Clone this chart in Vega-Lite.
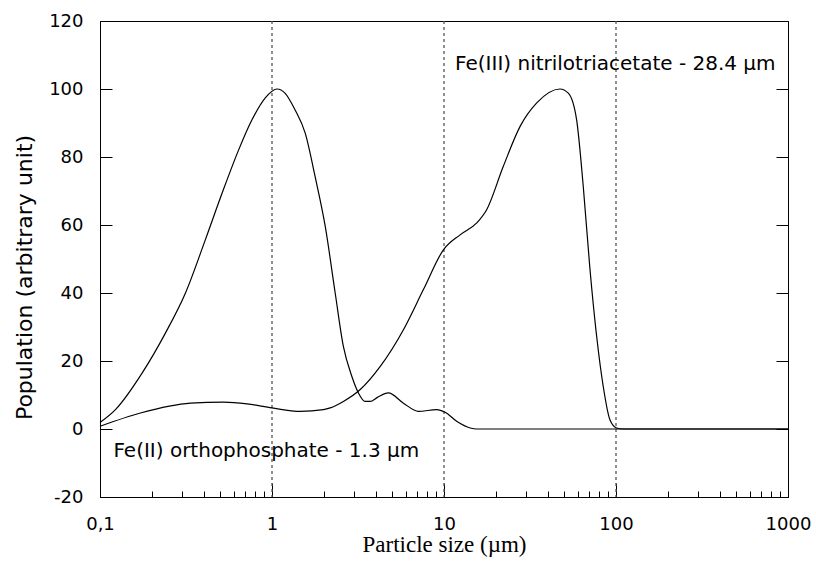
{
  "$schema": "https://vega.github.io/schema/vega-lite/v6.json",
  "width": 688,
  "height": 476,
  "autosize": "none",
  "padding": {"left": 100, "top": 21, "right": 28, "bottom": 70},
  "background": "white",
  "config": {
    "view": {"stroke": "black", "strokeWidth": 1},
    "axis": {
      "domainColor": "black",
      "tickColor": "black",
      "labelColor": "black",
      "titleColor": "black",
      "labelFont": "DejaVu Sans",
      "labelFontSize": 18,
      "grid": false
    }
  },
  "datasets": {
    "curves": [
      {"size": 0.1, "pop": 1.9, "sample": "Fe(II) orthophosphate"},
      {"size": 0.123, "pop": 5.7, "sample": "Fe(II) orthophosphate"},
      {"size": 0.176, "pop": 16.5, "sample": "Fe(II) orthophosphate"},
      {"size": 0.24, "pop": 28.2, "sample": "Fe(II) orthophosphate"},
      {"size": 0.314, "pop": 40, "sample": "Fe(II) orthophosphate"},
      {"size": 0.41, "pop": 55.7, "sample": "Fe(II) orthophosphate"},
      {"size": 0.513, "pop": 69.4, "sample": "Fe(II) orthophosphate"},
      {"size": 0.64, "pop": 82.1, "sample": "Fe(II) orthophosphate"},
      {"size": 0.766, "pop": 91, "sample": "Fe(II) orthophosphate"},
      {"size": 0.914, "pop": 97.4, "sample": "Fe(II) orthophosphate"},
      {"size": 1.07, "pop": 100, "sample": "Fe(II) orthophosphate"},
      {"size": 1.19, "pop": 98.8, "sample": "Fe(II) orthophosphate"},
      {"size": 1.36, "pop": 93.9, "sample": "Fe(II) orthophosphate"},
      {"size": 1.56, "pop": 87, "sample": "Fe(II) orthophosphate"},
      {"size": 1.78, "pop": 74.3, "sample": "Fe(II) orthophosphate"},
      {"size": 2.04, "pop": 59.6, "sample": "Fe(II) orthophosphate"},
      {"size": 2.33, "pop": 40, "sample": "Fe(II) orthophosphate"},
      {"size": 2.6, "pop": 24.3, "sample": "Fe(II) orthophosphate"},
      {"size": 2.91, "pop": 15.5, "sample": "Fe(II) orthophosphate"},
      {"size": 3.18, "pop": 10.6, "sample": "Fe(II) orthophosphate"},
      {"size": 3.48, "pop": 8.1, "sample": "Fe(II) orthophosphate"},
      {"size": 3.72, "pop": 8.1, "sample": "Fe(II) orthophosphate"},
      {"size": 4.1, "pop": 9.3, "sample": "Fe(II) orthophosphate"},
      {"size": 4.75, "pop": 10.6, "sample": "Fe(II) orthophosphate"},
      {"size": 5.81, "pop": 7.6, "sample": "Fe(II) orthophosphate"},
      {"size": 7.1, "pop": 5.2, "sample": "Fe(II) orthophosphate"},
      {"size": 9.08, "pop": 5.7, "sample": "Fe(II) orthophosphate"},
      {"size": 10.15, "pop": 4.9, "sample": "Fe(II) orthophosphate"},
      {"size": 11.9, "pop": 2.2, "sample": "Fe(II) orthophosphate"},
      {"size": 14.2, "pop": 0.3, "sample": "Fe(II) orthophosphate"},
      {"size": 15.5, "pop": 0, "sample": "Fe(II) orthophosphate"},
      {"size": 1000, "pop": 0, "sample": "Fe(II) orthophosphate"},
      {"size": 0.1, "pop": 0.8, "sample": "Fe(III) nitrilotriacetate"},
      {"size": 0.172, "pop": 4.7, "sample": "Fe(III) nitrilotriacetate"},
      {"size": 0.336, "pop": 7.6, "sample": "Fe(III) nitrilotriacetate"},
      {"size": 0.524, "pop": 7.9, "sample": "Fe(III) nitrilotriacetate"},
      {"size": 0.716, "pop": 7.4, "sample": "Fe(III) nitrilotriacetate"},
      {"size": 1.0, "pop": 6.2, "sample": "Fe(III) nitrilotriacetate"},
      {"size": 1.46, "pop": 5.2, "sample": "Fe(III) nitrilotriacetate"},
      {"size": 1.99, "pop": 5.7, "sample": "Fe(III) nitrilotriacetate"},
      {"size": 2.18, "pop": 6.2, "sample": "Fe(III) nitrilotriacetate"},
      {"size": 2.6, "pop": 8.1, "sample": "Fe(III) nitrilotriacetate"},
      {"size": 3.26, "pop": 11.6, "sample": "Fe(III) nitrilotriacetate"},
      {"size": 4.26, "pop": 18.4, "sample": "Fe(III) nitrilotriacetate"},
      {"size": 5.81, "pop": 29.2, "sample": "Fe(III) nitrilotriacetate"},
      {"size": 7.59, "pop": 41, "sample": "Fe(III) nitrilotriacetate"},
      {"size": 9.92, "pop": 52.7, "sample": "Fe(III) nitrilotriacetate"},
      {"size": 12.4, "pop": 57.1, "sample": "Fe(III) nitrilotriacetate"},
      {"size": 15.5, "pop": 60.6, "sample": "Fe(III) nitrilotriacetate"},
      {"size": 17.7, "pop": 64.5, "sample": "Fe(III) nitrilotriacetate"},
      {"size": 22.1, "pop": 77.2, "sample": "Fe(III) nitrilotriacetate"},
      {"size": 27.7, "pop": 89, "sample": "Fe(III) nitrilotriacetate"},
      {"size": 34.6, "pop": 95.9, "sample": "Fe(III) nitrilotriacetate"},
      {"size": 47.2, "pop": 100, "sample": "Fe(III) nitrilotriacetate"},
      {"size": 52.8, "pop": 98.8, "sample": "Fe(III) nitrilotriacetate"},
      {"size": 59.0, "pop": 91, "sample": "Fe(III) nitrilotriacetate"},
      {"size": 64.5, "pop": 71.4, "sample": "Fe(III) nitrilotriacetate"},
      {"size": 70.6, "pop": 46.9, "sample": "Fe(III) nitrilotriacetate"},
      {"size": 77.2, "pop": 27.2, "sample": "Fe(III) nitrilotriacetate"},
      {"size": 84.3, "pop": 12.5, "sample": "Fe(III) nitrilotriacetate"},
      {"size": 92.2, "pop": 2.7, "sample": "Fe(III) nitrilotriacetate"},
      {"size": 100.8, "pop": 0.3, "sample": "Fe(III) nitrilotriacetate"},
      {"size": 110, "pop": 0, "sample": "Fe(III) nitrilotriacetate"},
      {"size": 1000, "pop": 0, "sample": "Fe(III) nitrilotriacetate"}
    ],
    "markers": [{"size": 1}, {"size": 10}, {"size": 100}],
    "labels": [
      {"size": 11.6, "pop": 107.4, "label": "Fe(III) nitrilotriacetate - 28.4 µm"},
      {"size": 0.1197, "pop": -6.6, "label": "Fe(II) orthophosphate - 1.3 µm"}
    ]
  },
  "layer": [
    {
      "data": {"name": "markers"},
      "mark": {"type": "rule", "color": "#555", "strokeWidth": 1.3, "strokeDash": [3, 3]},
      "encoding": {
        "x": {
          "field": "size",
          "type": "quantitative",
          "scale": {"type": "log", "domain": [0.1, 1000], "nice": false},
          "axis": null
        }
      }
    },
    {
      "data": {"name": "curves"},
      "mark": {"type": "line", "color": "black", "strokeWidth": 1.2, "interpolate": "monotone"},
      "encoding": {
        "x": {
          "field": "size",
          "type": "quantitative",
          "scale": {"type": "log", "domain": [0.1, 1000], "nice": false},
          "axis": {
            "orient": "bottom",
            "title": "Particle size (µm)",
            "titleFont": "Liberation Serif",
            "titleFontSize": 23,
            "titleFontWeight": "normal",
            "titlePadding": 0,
            "values": [0.1, 1, 10, 100, 1000],
            "tickSize": -14,
            "labelExpr": "datum.value == 0.1 ? '0,1' : format(datum.value, 'd')",
            "labelPadding": 32,
            "labelFlush": false
          }
        },
        "y": {
          "field": "pop",
          "type": "quantitative",
          "scale": {"domain": [-20, 120], "nice": false, "zero": false},
          "axis": {
            "title": "Population (arbitrary unit)",
            "titleFont": "DejaVu Sans",
            "titleFontSize": 22,
            "titleFontWeight": "normal",
            "titlePadding": 12,
            "titleY": 256,
            "values": [-20, 0, 20, 40, 60, 80, 100, 120],
            "labelExpr": "replace(datum.label, '−', '-')",
            "tickSize": -12,
            "labelPadding": 29
          }
        },
        "detail": {"field": "sample"}
      }
    },
    {
      "data": {"name": "labels"},
      "mark": {"type": "text", "font": "DejaVu Sans", "fontSize": 20, "align": "left", "baseline": "middle", "color": "black"},
      "encoding": {
        "x": {
          "field": "size",
          "type": "quantitative",
          "scale": {"type": "log", "domain": [0.1, 1000], "nice": false},
          "axis": {
            "orient": "bottom",
            "title": null,
            "labels": false,
            "domain": false,
            "ticks": true,
            "values": [0.2, 0.3, 0.4, 0.5, 0.6, 0.7, 0.8, 0.9, 2, 3, 4, 5, 6, 7, 8, 9, 20, 30, 40, 50, 60, 70, 80, 90, 200, 300, 400, 500, 600, 700, 800, 900],
            "tickSize": -6
          }
        },
        "y": {
          "field": "pop",
          "type": "quantitative",
          "scale": {"domain": [-20, 120], "nice": false, "zero": false},
          "axis": {"orient": "right", "title": null, "labels": false, "domain": false, "values": [-20, 0, 20, 40, 60, 80, 100, 120], "tickSize": -12}
        },
        "text": {"field": "label"}
      }
    }
  ],
  "resolve": {"axis": {"y": "independent", "x": "independent"}}
}
